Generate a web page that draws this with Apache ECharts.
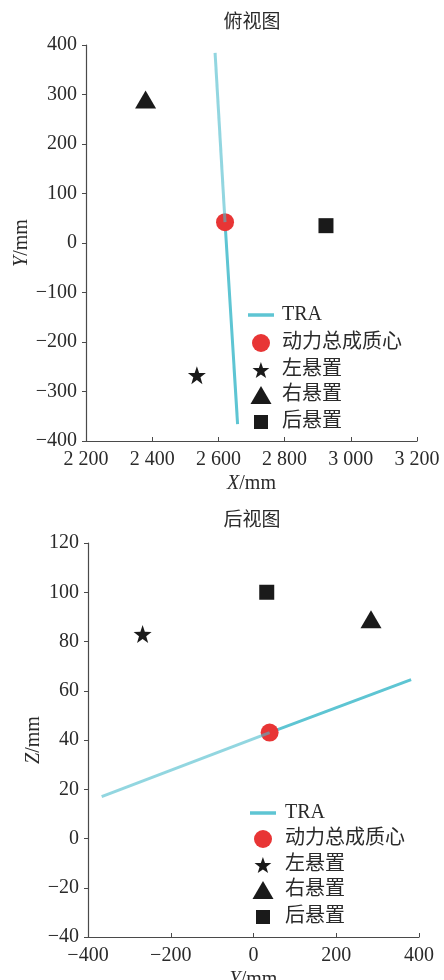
<!DOCTYPE html>
<html>
<head>
<meta charset="utf-8">
<script src="https://cdn.jsdelivr.net/npm/echarts@6/dist/echarts.min.js"></script>
<style>
  html, body { margin: 0; padding: 0; background: #fff; }
  #chart { width: 444px; height: 980px; }
</style>
</head>
<body>
<div id="chart"></div>
<script>
// ---- Top view (X–Y plane) ----
const topTitle = '俯视图';
const topXTicks = { min: 2200, max: 3200, step: 200 };
const topYTicks = { min: -400, max: 400, step: 100 };
const topTRA = [[2590, 384], [2620, 42], [2658, -366]];
const topCentroid = [[2620, 42]];
const topLeftMount = [[2535, -267]];
const topRightMount = [[2380, 290]];
const topRearMount = [[2925, 35]];

// ---- Rear view (Y–Z plane) ----
const rearTitle = '后视图';
const rearXTicks = { min: -400, max: 400, step: 200 };
const rearYTicks = { min: -40, max: 120, step: 20 };
const rearTRA = [[-367, 17], [39, 43], [381, 64.5]];
const rearCentroid = [[39, 43]];
const rearLeftMount = [[-268, 83]];
const rearRightMount = [[284, 89]];
const rearRearMount = [[32, 100]];

const legendNames = ['TRA', '动力总成质心', '左悬置', '右悬置', '后悬置'];

const SERIF = '"Liberation Serif", "DejaVu Serif", "Noto Sans CJK SC", serif';
const TEXT = '#2a2a2a';
const AXIS = '#4a4a4a';
const CYAN_DARK = '#5ec5d3';
const CYAN_LIGHT = 'rgba(73,187,203,0.6)';
const RED = '#e83535';
const BLACK = '#1a1a1a';
const STAR = 'path://M0,-10 L2.35,-3.24 9.51,-3.09 3.8,1.24 5.88,8.09 0,4 -5.88,8.09 -3.8,1.24 -9.51,-3.09 -2.35,-3.24Z';

// legend key shapes and sizes, one entry per legend name
const legendIcons = [
  { icon: 'rect', w: 26, h: 3.5, color: CYAN_DARK },
  { icon: 'circle', w: 18, h: 18 },
  { icon: STAR, w: 17, h: 16 },
  { icon: 'triangle', w: 21, h: 18 },
  { icon: 'rect', w: 14, h: 14 }
];

function fmtNum(v) {
  const s = String(Math.abs(v)).replace(/\B(?=(\d{3})+(?!\d))/g, ' ');
  return (v < 0 ? '\u2212' : '') + s;
}

const nameStyle = {
  fontFamily: SERIF, fontSize: 20, color: TEXT,
  rich: { i: { fontFamily: SERIF, fontSize: 20, fontStyle: 'italic', color: TEXT } }
};

function xAxis(idx, t, nameLetter, gap) {
  return {
    type: 'value', gridIndex: idx, min: t.min, max: t.max, interval: t.step,
    name: '{i|' + nameLetter + '}/mm', nameLocation: 'middle', nameGap: gap,
    nameTextStyle: nameStyle,
    axisLine: { show: true, onZero: false, lineStyle: { color: AXIS, width: 1.2 } },
    axisTick: { show: true, inside: true, length: 4, lineStyle: { color: AXIS } },
    axisLabel: { fontFamily: SERIF, fontSize: 20, color: TEXT, margin: 9, formatter: fmtNum },
    splitLine: { show: false }
  };
}

function yAxis(idx, t, nameLetter, gap) {
  return {
    type: 'value', gridIndex: idx, min: t.min, max: t.max, interval: t.step,
    name: '{i|' + nameLetter + '}/mm', nameLocation: 'middle', nameGap: gap,
    nameMoveOverlap: false,
    nameTextStyle: nameStyle,
    axisLine: { show: true, onZero: false, lineStyle: { color: AXIS, width: 1.2 } },
    axisTick: { show: true, inside: false, length: 4, lineStyle: { color: AXIS } },
    axisLabel: { fontFamily: SERIF, fontSize: 20, color: TEXT, margin: 9, formatter: fmtNum },
    splitLine: { show: false }
  };
}

function viewSeries(idx, tra, centroid, left, right, rear) {
  const mid = 1;
  return [
    { name: 'TRA', type: 'line', xAxisIndex: idx, yAxisIndex: idx, data: tra.slice(mid),
      symbol: 'none', z: 1, lineStyle: { color: CYAN_DARK, width: 3 }, itemStyle: { color: CYAN_DARK } },
    { name: '动力总成质心', type: 'scatter', xAxisIndex: idx, yAxisIndex: idx, data: centroid,
      symbol: 'circle', symbolSize: 18, z: 2, itemStyle: { color: RED, opacity: 1 } },
    { name: 'TRA', type: 'line', xAxisIndex: idx, yAxisIndex: idx, data: tra.slice(0, mid + 1),
      symbol: 'none', z: 3, lineStyle: { color: CYAN_LIGHT, width: 3 }, itemStyle: { color: CYAN_DARK } },
    { name: '左悬置', type: 'scatter', xAxisIndex: idx, yAxisIndex: idx, data: left,
      symbol: STAR, symbolSize: 18, z: 2, itemStyle: { color: BLACK, opacity: 1 } },
    { name: '右悬置', type: 'scatter', xAxisIndex: idx, yAxisIndex: idx, data: right,
      symbol: 'triangle', symbolSize: [21, 18], z: 2, itemStyle: { color: BLACK, opacity: 1 } },
    { name: '后悬置', type: 'scatter', xAxisIndex: idx, yAxisIndex: idx, data: rear,
      symbol: 'rect', symbolSize: 15, z: 2, itemStyle: { color: BLACK, opacity: 1 } }
  ];
}

// one legend block per entry so every key keeps its own size
function legendBlock(iconCenterX, textLeftX, rowCenters) {
  return legendNames.map((n, i) => {
    const ic = legendIcons[i];
    const left = iconCenterX - ic.w / 2;
    const pad = textLeftX - (left + ic.w + 5);
    const item = { name: n, icon: ic.icon };
    if (ic.color) item.itemStyle = { color: ic.color };
    return {
      show: true, orient: 'vertical', left: left, top: rowCenters[i] - 11, padding: 0,
      data: [item], itemWidth: ic.w, itemHeight: ic.h,
      textStyle: { fontFamily: SERIF, fontSize: 20, lineHeight: 22, color: TEXT, padding: [0, 0, 0, pad] },
      selectedMode: false
    };
  });
}

const chart = echarts.init(document.getElementById('chart'), null, { renderer: 'canvas' });
chart.setOption({
  backgroundColor: '#fff',
  animation: false,
  title: [
    { text: topTitle, left: 247, top: 9, textAlign: 'center',
      textStyle: { fontFamily: SERIF, fontSize: 19, fontWeight: 'normal', color: TEXT } },
    { text: rearTitle, left: 247, top: 507, textAlign: 'center',
      textStyle: { fontFamily: SERIF, fontSize: 19, fontWeight: 'normal', color: TEXT } }
  ],
  grid: [
    { left: 86, top: 45, width: 331, height: 396, containLabel: false, outerBoundsMode: 'none' },
    { left: 88, top: 543, width: 331, height: 394, containLabel: false, outerBoundsMode: 'none' }
  ],
  xAxis: [xAxis(0, topXTicks, 'X', 33), xAxis(1, rearXTicks, 'Y', 33)],
  yAxis: [yAxis(0, topYTicks, 'Y', 54), yAxis(1, rearYTicks, 'Z', 44)],
  legend: [
    ...legendBlock(261, 282, [315, 343, 370, 395, 422]),
    ...legendBlock(263, 285, [813, 839, 865, 890, 917])
  ],
  series: [
    ...viewSeries(0, topTRA, topCentroid, topLeftMount, topRightMount, topRearMount),
    ...viewSeries(1, rearTRA, rearCentroid, rearLeftMount, rearRightMount, rearRearMount)
  ]
});
</script>
</body>
</html>
